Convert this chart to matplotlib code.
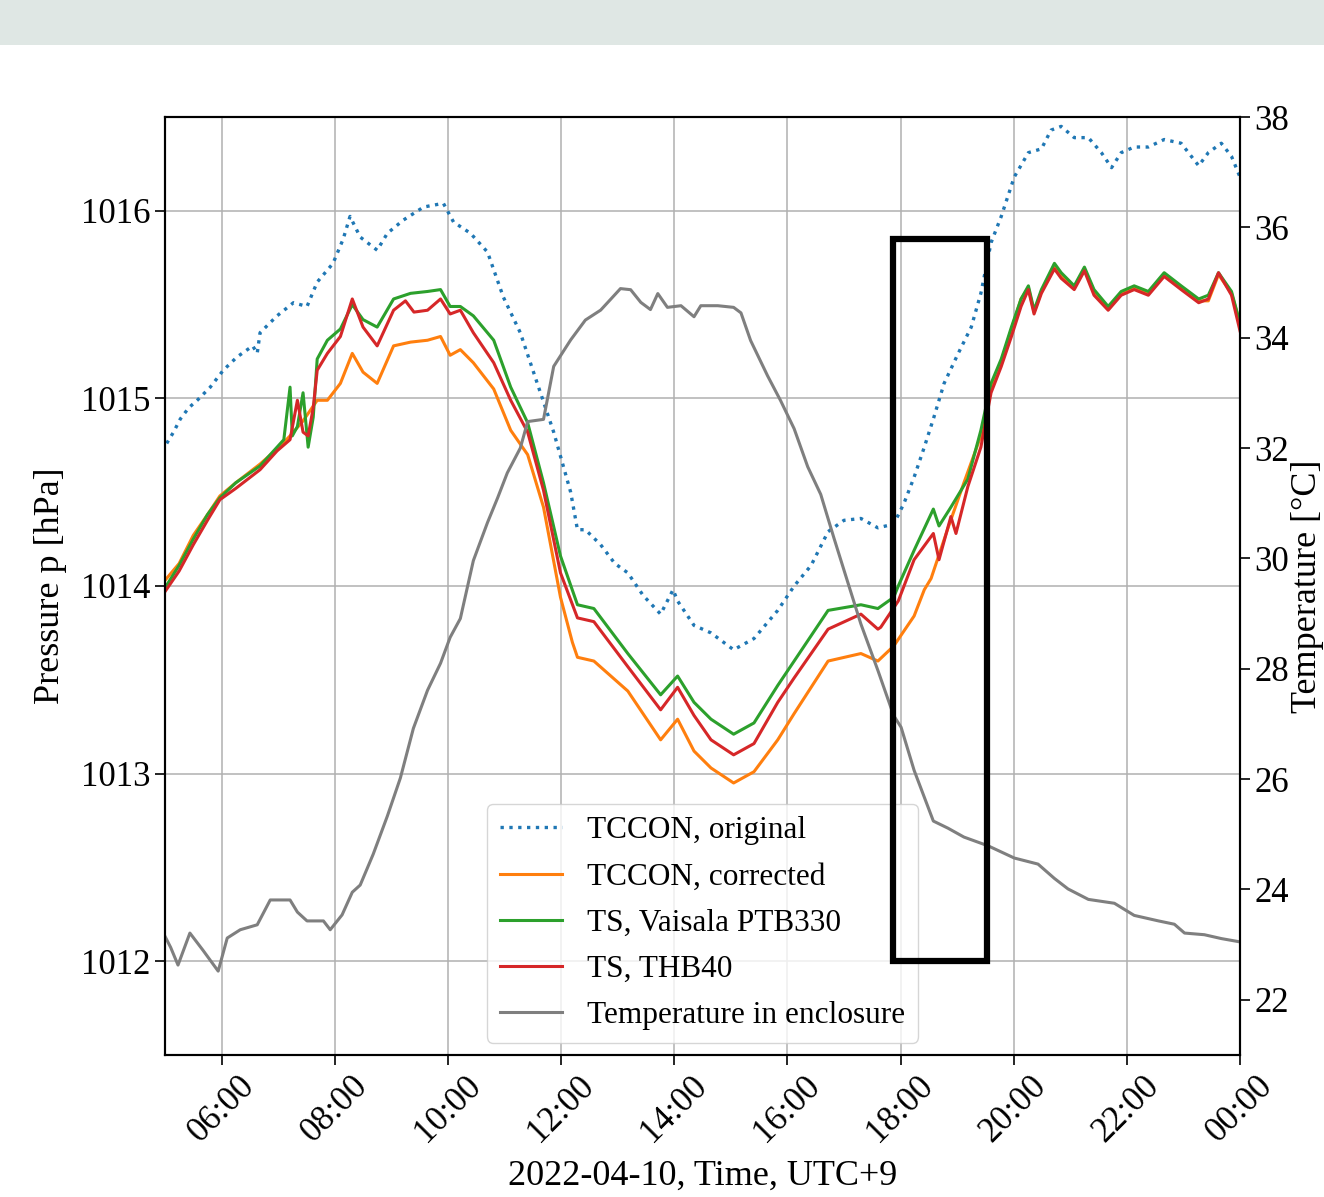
import numpy as np
import pandas as pd
import matplotlib
matplotlib.use("Agg")
import matplotlib.pyplot as plt
import matplotlib.dates as mdates
from matplotlib.patches import Rectangle

plt.rcParams['font.family'] = ['Liberation Serif', 'DejaVu Serif']

# ---------------- data (hours of 2022-04-10, values) ----------------
tccon_orig_h = [5.03, 5.15, 5.27, 5.42, 5.57, 5.80, 6.03, 6.27, 6.55, 6.63, 6.68, 6.98, 7.27, 7.51,
                7.69, 7.97, 8.15, 8.27, 8.45, 8.75, 8.93, 9.21, 9.57, 9.92, 10.10, 10.40, 10.70,
                10.98, 11.28, 11.58, 11.87, 12.17, 12.29, 12.43, 12.70, 12.95, 13.18, 13.45, 13.76,
                13.98, 14.06, 14.35, 14.65, 15.05, 15.41, 15.83, 16.12, 16.42, 16.72, 17.00, 17.30,
                17.60, 17.88, 18.06, 18.24, 18.42, 18.59, 18.77, 19.02, 19.25, 19.42, 19.60, 19.78,
                20.01, 20.26, 20.49, 20.66, 20.84, 21.07, 21.32, 21.55, 21.73, 21.90, 22.13, 22.38,
                22.66, 22.96, 23.27, 23.44, 23.67, 23.85, 24.00]
tccon_orig_p = [1014.76, 1014.82, 1014.89, 1014.95, 1014.99, 1015.06, 1015.15, 1015.22, 1015.28,
                1015.24, 1015.35, 1015.44, 1015.51, 1015.49, 1015.62, 1015.72, 1015.85, 1015.97,
                1015.86, 1015.79, 1015.88, 1015.95, 1016.02, 1016.04, 1015.94, 1015.88, 1015.78,
                1015.54, 1015.35, 1015.08, 1014.82, 1014.50, 1014.30, 1014.30, 1014.22, 1014.12,
                1014.07, 1013.95, 1013.85, 1013.98, 1013.92, 1013.79, 1013.75, 1013.66, 1013.72,
                1013.87, 1014.00, 1014.11, 1014.29, 1014.35, 1014.36, 1014.31, 1014.33, 1014.44,
                1014.58, 1014.74, 1014.90, 1015.08, 1015.24, 1015.38, 1015.56, 1015.83, 1015.97,
                1016.18, 1016.31, 1016.33, 1016.43, 1016.45, 1016.39, 1016.39, 1016.31, 1016.23,
                1016.31, 1016.34, 1016.34, 1016.38, 1016.36, 1016.24, 1016.31, 1016.36, 1016.29,
                1016.18]

tccon_corr_h = [5.00, 5.25, 5.50, 5.75, 5.97, 6.25, 6.68, 6.98, 7.21, 7.44, 7.69, 7.87, 8.10, 8.31,
                8.50, 8.75, 9.04, 9.34, 9.64, 9.87, 10.04, 10.22, 10.45, 10.81, 11.11, 11.41, 11.69,
                11.99, 12.20, 12.29, 12.58, 13.18, 13.76, 14.06, 14.35, 14.65, 15.05, 15.41, 15.83,
                16.12, 16.72, 17.30, 17.60, 17.88, 18.24, 18.42, 18.54, 18.84, 19.12, 19.42, 19.60,
                19.78, 19.96, 20.13, 20.26, 20.36, 20.49, 20.72, 20.84, 21.07, 21.25, 21.42, 21.67,
                21.90, 22.13, 22.38, 22.66, 22.96, 23.27, 23.44, 23.62, 23.85, 24.00]
tccon_corr_p = [1014.03, 1014.12, 1014.27, 1014.38, 1014.48, 1014.55, 1014.65, 1014.73, 1014.80,
                1014.88, 1014.99, 1014.99, 1015.08, 1015.24, 1015.14, 1015.08, 1015.28, 1015.30,
                1015.31, 1015.33, 1015.23, 1015.26, 1015.19, 1015.05, 1014.83, 1014.70, 1014.42,
                1013.94, 1013.70, 1013.62, 1013.60, 1013.44, 1013.18, 1013.29, 1013.12, 1013.03,
                1012.95, 1013.01, 1013.18, 1013.32, 1013.60, 1013.64, 1013.60, 1013.68, 1013.84,
                1013.98, 1014.04, 1014.31, 1014.55, 1014.80, 1015.05, 1015.19, 1015.37, 1015.53,
                1015.59, 1015.46, 1015.57, 1015.71, 1015.66, 1015.59, 1015.69, 1015.57, 1015.48,
                1015.56, 1015.59, 1015.56, 1015.66, 1015.59, 1015.52, 1015.52, 1015.66, 1015.56,
                1015.40]

vaisala_h = [5.00, 5.25, 5.50, 5.75, 5.97, 6.25, 6.68, 6.98, 7.10, 7.21, 7.25, 7.34, 7.44, 7.53,
             7.62, 7.69, 7.87, 8.10, 8.31, 8.50, 8.75, 9.04, 9.34, 9.64, 9.87, 10.04, 10.22, 10.45,
             10.81, 11.11, 11.41, 11.69, 11.99, 12.29, 12.58, 13.18, 13.76, 14.06, 14.35, 14.65,
             15.05, 15.41, 15.83, 16.12, 16.72, 17.30, 17.60, 17.88, 17.96, 18.24, 18.58, 18.68,
             18.89, 19.19, 19.42, 19.60, 19.78, 19.96, 20.13, 20.26, 20.36, 20.49, 20.72, 20.84,
             21.07, 21.25, 21.42, 21.67, 21.90, 22.13, 22.38, 22.66, 22.96, 23.27, 23.44, 23.62,
             23.85, 24.00]
vaisala_p = [1013.99, 1014.11, 1014.25, 1014.38, 1014.47, 1014.55, 1014.64, 1014.74, 1014.78,
             1015.06, 1014.80, 1014.85, 1015.03, 1014.74, 1014.90, 1015.21, 1015.31, 1015.37,
             1015.50, 1015.42, 1015.38, 1015.53, 1015.56, 1015.57, 1015.58, 1015.49, 1015.49,
             1015.44, 1015.31, 1015.06, 1014.87, 1014.55, 1014.16, 1013.90, 1013.88, 1013.64,
             1013.42, 1013.52, 1013.38, 1013.29, 1013.21, 1013.27, 1013.47, 1013.60, 1013.87,
             1013.90, 1013.88, 1013.94, 1014.00, 1014.19, 1014.41, 1014.32, 1014.42, 1014.57,
             1014.83, 1015.08, 1015.21, 1015.38, 1015.53, 1015.60, 1015.47, 1015.58, 1015.72,
             1015.67, 1015.60, 1015.70, 1015.58, 1015.49, 1015.57, 1015.60, 1015.57, 1015.67,
             1015.60, 1015.53, 1015.55, 1015.67, 1015.57, 1015.40]

thb40_h = [5.00, 5.25, 5.50, 5.75, 5.97, 6.25, 6.68, 6.98, 7.21, 7.34, 7.44, 7.53, 7.62, 7.69,
           7.87, 8.10, 8.31, 8.50, 8.75, 9.04, 9.25, 9.40, 9.64, 9.87, 10.04, 10.22, 10.45, 10.81,
           11.11, 11.41, 11.69, 11.99, 12.29, 12.58, 13.18, 13.76, 14.06, 14.35, 14.65, 15.05,
           15.41, 15.83, 16.12, 16.72, 17.30, 17.60, 17.65, 17.96, 18.24, 18.58, 18.68, 18.89,
           18.98, 19.19, 19.42, 19.60, 19.78, 19.96, 20.13, 20.26, 20.36, 20.49, 20.72, 20.84,
           21.07, 21.25, 21.42, 21.67, 21.90, 22.13, 22.38, 22.66, 22.96, 23.27, 23.44, 23.62,
           23.85, 24.00]
thb40_p = [1013.97, 1014.08, 1014.22, 1014.35, 1014.46, 1014.52, 1014.62, 1014.72, 1014.78,
           1014.99, 1014.82, 1014.80, 1014.95, 1015.15, 1015.24, 1015.33, 1015.53, 1015.38,
           1015.28, 1015.47, 1015.52, 1015.46, 1015.47, 1015.53, 1015.45, 1015.47, 1015.35,
           1015.19, 1014.99, 1014.82, 1014.51, 1014.07, 1013.83, 1013.81, 1013.57, 1013.34,
           1013.46, 1013.31, 1013.18, 1013.10, 1013.16, 1013.38, 1013.51, 1013.77, 1013.85,
           1013.77, 1013.78, 1013.92, 1014.14, 1014.28, 1014.14, 1014.37, 1014.28, 1014.53,
           1014.74, 1015.03, 1015.17, 1015.33, 1015.49, 1015.58, 1015.45, 1015.56, 1015.69,
           1015.64, 1015.58, 1015.68, 1015.55, 1015.47, 1015.55, 1015.58, 1015.55, 1015.65,
           1015.58, 1015.51, 1015.53, 1015.67, 1015.55, 1015.36]

temp_h = [5.00, 5.10, 5.23, 5.44, 5.67, 5.94, 6.10, 6.33, 6.63, 6.86, 7.21, 7.34, 7.51, 7.80,
          7.92, 8.13, 8.31, 8.45, 8.68, 8.93, 9.16, 9.39, 9.64, 9.87, 10.04, 10.22, 10.45, 10.70,
          10.88, 11.05, 11.28, 11.41, 11.69, 11.87, 12.17, 12.43, 12.70, 12.88, 13.05, 13.23,
          13.41, 13.58, 13.71, 13.88, 14.12, 14.35, 14.47, 14.77, 15.05, 15.18, 15.35, 15.65,
          15.88, 16.12, 16.36, 16.59, 16.82, 17.07, 17.30, 17.60, 17.88, 18.01, 18.24, 18.58,
          18.84, 19.12, 19.55, 20.01, 20.43, 20.72, 20.96, 21.32, 21.78, 22.13, 22.56, 22.84,
          23.02, 23.37, 23.67, 24.00]
temp_c = [23.15, 22.95, 22.63, 23.21, 22.90, 22.52, 23.12, 23.27, 23.36, 23.81, 23.81, 23.59,
          23.43, 23.43, 23.27, 23.54, 23.95, 24.08, 24.64, 25.33, 26.02, 26.92, 27.61, 28.10,
          28.57, 28.91, 29.96, 30.65, 31.10, 31.55, 32.00, 32.48, 32.52, 33.48, 33.96, 34.32,
          34.50, 34.70, 34.89, 34.87, 34.64, 34.51, 34.80, 34.55, 34.58, 34.38, 34.58, 34.58,
          34.55, 34.45, 33.95, 33.31, 32.86, 32.35, 31.66, 31.16, 30.38, 29.56, 28.81, 27.97,
          27.15, 26.94, 26.16, 25.24, 25.11, 24.95, 24.79, 24.57, 24.46, 24.20, 24.01, 23.82,
          23.75, 23.53, 23.43, 23.37, 23.21, 23.18, 23.11, 23.05]

labels = ["TCCON, original", "TCCON, corrected", "TS, Vaisala PTB330", "TS, THB40",
          "Temperature in enclosure"]

# highlighted window (hours, hPa)
box_h = [17.87, 19.53]
box_p = [1012.0, 1015.85]

base = pd.Timestamp("2022-04-10")


def to_time(hours):
    return base + pd.to_timedelta(np.asarray(hours, dtype=float), unit="h")


# ---------------- figure ----------------
W, H, DPI = 1324, 1197, 100
fig = plt.figure(figsize=(W / DPI, H / DPI), dpi=DPI)
fig.patches.append(Rectangle((0, 1 - 45 / H), 1, 45 / H, transform=fig.transFigure,
                             facecolor="#dfe7e4", edgecolor="none", zorder=0))

ax = fig.add_axes([165 / W, 1 - 1055 / H, (1240 - 165) / W, (1055 - 117) / H])
ax2 = ax.twinx()

lw = 2.2
l1, = ax.plot(to_time(tccon_orig_h), tccon_orig_p, color="tab:blue", ls=":", lw=2.4,
              label=labels[0])
l2, = ax.plot(to_time(tccon_corr_h), tccon_corr_p, color="tab:orange", lw=lw, label=labels[1])
l3, = ax.plot(to_time(vaisala_h), vaisala_p, color="tab:green", lw=lw, label=labels[2])
l4, = ax.plot(to_time(thb40_h), thb40_p, color="tab:red", lw=lw, label=labels[3])
l5, = ax2.plot(to_time(temp_h), temp_c, color="tab:gray", lw=lw, label=labels[4])

ax.set_xlim(to_time([5.0])[0], to_time([24.0])[0])
ax.set_ylim(1011.5, 1016.5)
ax2.set_ylim(21.0, 38.0)
ax.set_yticks([1012, 1013, 1014, 1015, 1016])
ax2.set_yticks(list(range(22, 39, 2)))

ax.xaxis.set_major_locator(mdates.HourLocator(byhour=range(0, 24, 2)))
ax.xaxis.set_major_formatter(mdates.DateFormatter("%H:%M"))
ax.grid(True, color="#b0b0b0", lw=1.1)

fs = 25
for a in (ax, ax2):
    a.tick_params(labelsize=fs, length=7, width=1.2)
    for s in a.spines.values():
        s.set_linewidth(1.5)
for lab in ax.get_xticklabels():
    lab.set_rotation(45)

ax.set_ylabel("Pressure p [hPa]", fontsize=26, labelpad=10)
ax2.set_ylabel("Temperature [°C]", fontsize=26, labelpad=1)
ax.set_xlabel("2022-04-10, Time, UTC+9", fontsize=26, labelpad=8)

leg = ax2.legend(handles=[l1, l2, l3, l4, l5], loc="lower center", fontsize=22.5,
                 handlelength=2.0, borderaxespad=0.4, labelspacing=0.55)
leg.set_zorder(10)

# highlight box drawn above the legend (pressure coordinates)
t0, t1 = to_time(box_h)
x0 = mdates.date2num(t0)
x1 = mdates.date2num(t1)
ax2.add_patch(Rectangle((x0, box_p[0]), x1 - x0, box_p[1] - box_p[0], fill=False,
                        edgecolor="black", lw=4.5, zorder=20, transform=ax.transData))

fig.savefig("out.png", dpi=DPI)
